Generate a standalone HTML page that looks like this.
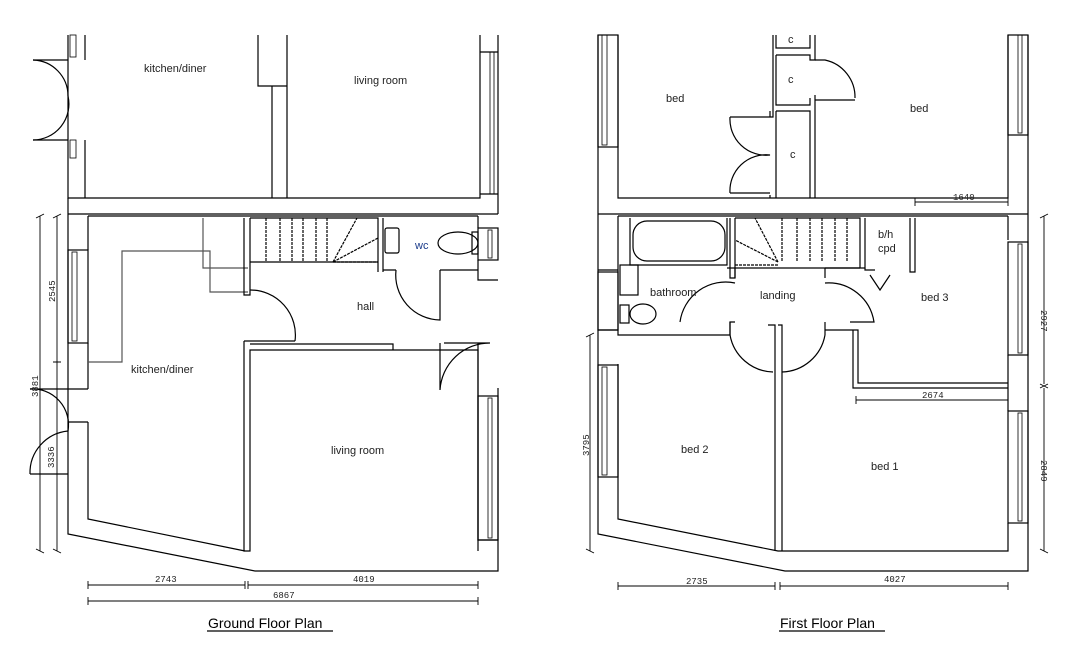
<!DOCTYPE html>
<html><head><meta charset="utf-8"><style>
html,body{margin:0;padding:0;background:#fff;}
svg{display:block;}
text{font-family:"Liberation Sans",sans-serif;font-size:11px;fill:#222;}
.d{font-family:"Liberation Mono",monospace;font-size:9px;}
.t{font-size:14px;fill:#000;}
</style></head><body>
<svg width="1076" height="659" viewBox="0 0 1076 659" xmlns="http://www.w3.org/2000/svg">
<g fill="none" stroke="#000" stroke-width="1.2">
<!-- ===== GROUND FLOOR ===== -->
<!-- top section -->
<path d="M68 35V198H480V35M85 35V60M85 140V198H480"/>
<path d="M498 35V214"/>
<path d="M480 52H498M480 194H498"/>
<rect x="490" y="52" width="4" height="142" stroke-width="0.8"/>
<path d="M68 60H33M68 140H33"/>
<path d="M33 60A36 36 0 0 1 68 96M33 140A36 36 0 0 0 68 96"/>
<rect x="70" y="35" width="6" height="22" stroke-width="0.8"/>
<rect x="70" y="140" width="6" height="18" stroke-width="0.8"/>
<path d="M258 35V86H287V35M272 86V198M287 86V198"/>
<!-- band -->
<path d="M68 198V214M68 214H498M88 216H478"/>
<!-- lower left wall -->
<path d="M68 214V534L255 571H498V388M88 216V250M88 343V389M88 422V519L245 551"/>
<rect x="68" y="250" width="20" height="93"/>
<rect x="72" y="252" width="5" height="89" stroke-width="0.8"/>
<path d="M68 389H88M68 422H88M68 389H30M68 474H30"/>
<path d="M30 389A36 36 0 0 1 68 431M30 474A42 42 0 0 1 68 431"/>
<!-- kitchen counters -->
<path stroke="#555" d="M88 362H122V251H210V292H248M203 218V268H248"/>
<!-- living room -->
<path d="M244 341V551H250V350H478V551M244 341H295M250 344H393V350"/>
<path d="M478 216V228M478 260V280H498M478 343V540H498"/>
<rect x="478" y="228" width="20" height="32"/>
<rect x="488" y="230" width="4" height="28" stroke-width="0.8"/>
<rect x="478" y="396" width="20" height="144"/>
<rect x="488" y="398" width="4" height="140" stroke-width="0.8"/>
<!-- stairs -->
<path d="M244 218V295H250V218M250 218H378V272M250 262H378"/>
<path stroke-dasharray="3,1" d="M266 218V262M280 218V262M292 218V262M303 218V262M316 218V262M327 218V262M333 262L357 218M333 262L378 238M333 262H378"/>
<!-- wc -->
<path d="M383 218V270H396M383 270V272M440 270H478"/>
<path d="M396 270A45 45 0 0 0 440 320V270"/>
<rect x="385" y="228" width="14" height="25" rx="2"/>
<ellipse cx="458" cy="243" rx="20" ry="11"/>
<rect x="472" y="232" width="6" height="22"/>
<!-- hall right door -->
<path d="M440 343V390A50 50 0 0 1 490 343M444 343H490"/>
<path d="M250 290A45 45 0 0 1 295 341"/>
<!-- dims -->
<path stroke-width="0.9" d="M40 216V551M57 216V551M36 218l8 -4M53 218l8 -4M36 549l8 4M53 549l8 4M53 362h8"/>
<path stroke-width="0.9" d="M88 585H245M248 585H478M88 601H478M88 581v8M245 581v8M248 581v8M478 581v8M88 597v8M478 597v8"/>
<path d="M207 631H333"/>
<!-- ===== FIRST FLOOR ===== -->
<path d="M598 35V534L785 571H1028V35M618 35V198H1008V35"/>
<rect x="598" y="35" width="20" height="112"/>
<rect x="602" y="35" width="5" height="110" stroke-width="0.8"/>
<rect x="1008" y="35" width="20" height="100"/>
<rect x="1018" y="35" width="4" height="98" stroke-width="0.8"/>
<path d="M598 214H1028M618 216H1008"/>
<!-- cupboards -->
<path d="M773 35V117H770M770 195V198M776 35V48H810V35M776 55H810V58M810 55V60H815V35M815 95V100H855M815 198V100M776 55V105H810V98M776 111V198M776 111H810V198M770 117V111"/>
<path d="M815 60H825A38 38 0 0 1 855 98"/>
<path d="M770 117H730M770 193H730M730 117A36 36 0 0 0 770 155A36 36 0 0 0 730 193"/>
<!-- dim 1640 -->
<path stroke-width="0.9" d="M915 202H1008M915 198v8M1008 198v8"/>
<!-- bathroom -->
<path d="M618 216V335H730V322H735M598 270H618M598 330H618M618 330V335"/>
<rect x="598" y="272" width="20" height="58"/>
<rect x="633" y="221" width="92" height="40" rx="14"/>
<path d="M630 218V265H727V218"/>
<rect x="620" y="265" width="18" height="30"/>
<ellipse cx="643" cy="314" rx="13" ry="10"/>
<rect x="620" y="305" width="9" height="18"/>
<!-- stairs -->
<path d="M730 218V278H735V218M735 218H860V268H865V218M735 268H860"/>
<path stroke-dasharray="3,1" d="M782 218V262M797 218V262M810 218V262M822 218V262M835 218V262M847 218V262M778 262L755 218M778 262L735 240M735 265H778"/>
<path d="M727 268H735V278M825 268H860M825 268V278"/>
<!-- landing doors -->
<path d="M680 322A46 46 0 0 1 735 283M825 283A46 46 0 0 1 874 322H850M730 322V335M825 322V335"/>
<path d="M730 335A45 45 0 0 0 773 372M825 335A45 45 0 0 1 782 372"/>
<path d="M768 325H775V551M778 325H782V551"/>
<!-- b/h cpd -->
<path d="M865 268V270H875M910 218V272H915V218M870 275L880 290L890 275"/>
<!-- bed 3 -->
<path d="M825 330H853V388H1008M830 330H858V383H1008"/>
<path d="M1008 216V240M1008 355V411"/>
<rect x="1008" y="242" width="20" height="113"/>
<rect x="1018" y="244" width="4" height="109" stroke-width="0.8"/>
<rect x="1008" y="411" width="20" height="112"/>
<rect x="1018" y="413" width="4" height="108" stroke-width="0.8"/>
<path d="M618 364V519L778 551H1008V523"/>
<rect x="598" y="365" width="20" height="112"/>
<rect x="602" y="367" width="5" height="108" stroke-width="0.8"/>
<!-- dims -->
<path stroke-width="0.9" d="M590 335V551M586 337l8 -4M586 549l8 4M1044 216V384M1044 388V551M1040 218l8-4M1040 384l8 4M1040 388l8-4M1040 549l8 4"/>
<path stroke-width="0.9" d="M856 400H1008M856 396v8M1008 396v8M618 586H775M780 586H1008M618 582v8M775 582v8M780 582v8M1008 582v8"/>
<path d="M779 631H885"/>
</g>
<!-- labels -->
<text x="144" y="72">kitchen/diner</text>
<text x="354" y="84">living room</text>
<text x="357" y="310">hall</text>
<text x="415" y="249" style="fill:#1a3a8a">wc</text>
<text x="131" y="373">kitchen/diner</text>
<text x="331" y="454">living room</text>
<text class="d" x="0" y="0" transform="translate(55,302) rotate(-90)">2545</text>
<text class="d" x="0" y="0" transform="translate(38,397) rotate(-90)">3881</text>
<text class="d" x="0" y="0" transform="translate(54,468) rotate(-90)">3336</text>
<text class="d" x="155" y="582">2743</text>
<text class="d" x="353" y="582">4019</text>
<text class="d" x="273" y="598">6867</text>
<text class="t" x="208" y="628">Ground Floor Plan</text>

<text x="666" y="102">bed</text>
<text x="910" y="112">bed</text>
<text x="788" y="43">c</text>
<text x="788" y="83">c</text>
<text x="790" y="158">c</text>
<text class="d" x="953" y="200">1640</text>
<text x="878" y="238">b/h</text>
<text x="878" y="252">cpd</text>
<text x="650" y="296">bathroom</text>
<text x="760" y="299">landing</text>
<text x="921" y="301">bed 3</text>
<text x="681" y="453">bed 2</text>
<text x="871" y="470">bed 1</text>
<text class="d" x="922" y="398">2674</text>
<text class="d" x="0" y="0" transform="translate(589,456) rotate(-90)">3795</text>
<text class="d" x="0" y="0" transform="translate(1041,310) rotate(90)">2927</text>
<text class="d" x="0" y="0" transform="translate(1041,460) rotate(90)">2849</text>
<text class="d" x="686" y="584">2735</text>
<text class="d" x="884" y="582">4027</text>
<text class="t" x="780" y="628">First Floor Plan</text>
</svg>
</body></html>
